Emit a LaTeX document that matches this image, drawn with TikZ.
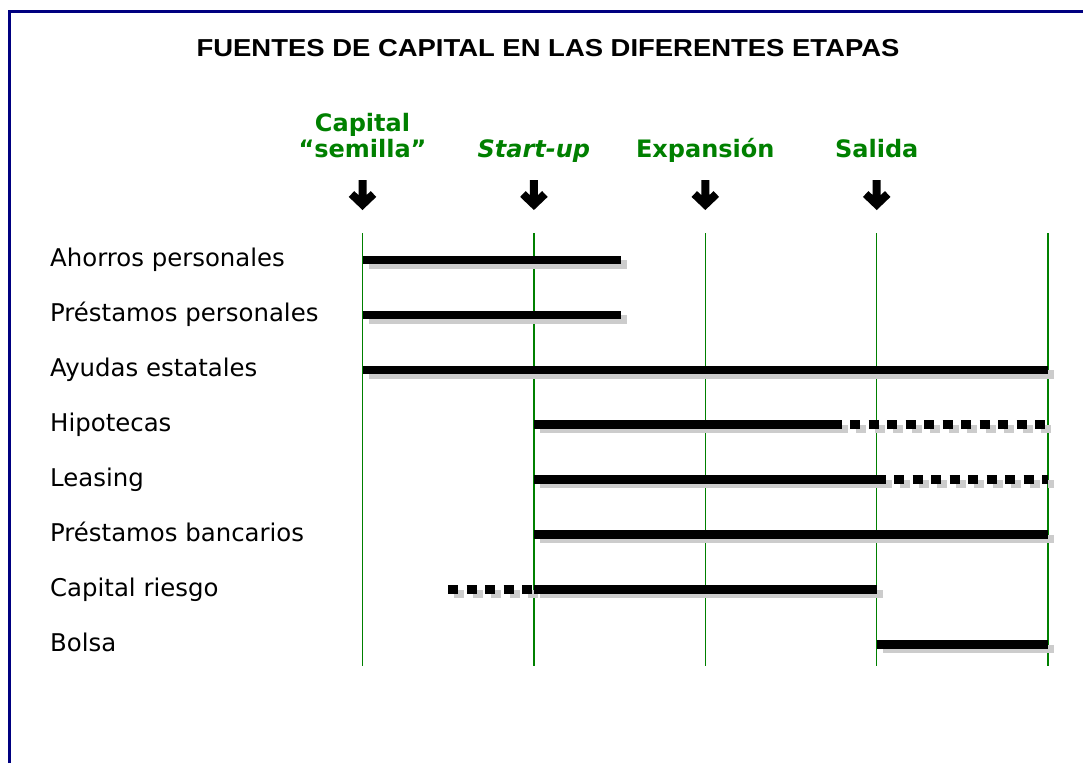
\documentclass[tikz,border=0pt]{standalone}
\usepackage{fontspec}
\usepackage{graphicx}
\setmainfont{DejaVu Sans}
\newfontfamily\titlefont{Liberation Sans}
\definecolor{verdeetapa}{RGB}{0,128,0}
\definecolor{azulmarco}{RGB}{0,0,128}
\definecolor{grissombra}{RGB}{204,204,204}
\tikzset{
  marco/.style={draw=azulmarco, line width=3pt},
  etapa/.style={text=verdeetapa, font=\bfseries\fontsize{24}{26}\selectfont, align=center, anchor=base, inner sep=0pt},
  fuente/.style={font=\fontsize{24.4}{28}\selectfont, anchor=base west, inner sep=0pt},
  linea/.style={draw=verdeetapa, line width=1.3pt},
  flecha/.style={line width=8pt, line join=miter},
  barra/.style={line width=8.5pt},
  sombra/.style={draw=grissombra, line width=8.5pt, xshift=6pt, yshift=-4.5pt},
  puntos/.style={dash pattern=on 10pt off 8.5pt}
}
% shadow first, then the black bar
\newcommand{\tramo}[4][]{%
  \draw[sombra,#1] (#3,#2) -- (#4,#2);
  \draw[barra,#1] (#3,#2) -- (#4,#2);}
\begin{document}
\begin{tikzpicture}[x=1pt, y=-1pt]
  \useasboundingbox (0,0) rectangle (1083,763);
  \draw[marco] (9.5,763) |- (1083,11.7);
  \node[anchor=base] (titulo) at (548,56.7)
    {\titlefont\bfseries\fontsize{24.5}{28}\selectfont\scalebox{1.12}[1]{FUENTES DE CAPITAL EN LAS DIFERENTES ETAPAS}};
  % stages
  \node[etapa] (semilla) at (362.5,157) {Capital\\“semilla”};
  \node[etapa] (startup) at (533.9,157) {\itshape Start-up};
  \node[etapa] (expansion) at (705.3,157) {Expansión};
  \node[etapa] (salida) at (876.7,157) {Salida};
  \foreach \i in {0,...,4} {
    \coordinate (t\i) at ({362.5+171.4*\i},233);
    \coordinate (b\i) at ({362.5+171.4*\i},666);
    \draw[linea] (t\i) -- (b\i);
  }
  \foreach \i in {0,...,3} {
    \coordinate (a\i) at ({362.5+171.4*\i},180);
    \draw[flecha] (a\i) -- ++(0,24.5) ++(-11,-10.5) -- ++(11,10.5) -- ++(11,-10.5);
  }
  % sources
  \node[fuente] (ahorros) at (50,266.8) {Ahorros personales};
  \node[fuente] (prestpers) at (50,321.7) {Préstamos personales};
  \node[fuente] (ayudas) at (50,376.6) {Ayudas estatales};
  \node[fuente] (hipotecas) at (50,431.5) {Hipotecas};
  \node[fuente] (leasing) at (50,486.4) {Leasing};
  \node[fuente] (prestbanc) at (50,541.3) {Préstamos bancarios};
  \node[fuente] (riesgo) at (50,596.2) {Capital riesgo};
  \node[fuente] (bolsa) at (50,651.1) {Bolsa};
  % bars
  \tramo{260}{362.5}{621}
  \tramo{314.9}{362.5}{621}
  \tramo{369.8}{362.5}{1048.1}
  \tramo{424.7}{533.9}{842}
  \tramo[puntos]{424.7}{850}{1048}
  \tramo{479.6}{533.9}{886}
  \tramo[puntos]{479.6}{894}{1048.1}
  \tramo{534.5}{533.9}{1048.1}
  \tramo[puntos]{589.4}{448}{533.9}
  \tramo{589.4}{533.9}{876.7}
  \tramo{644.3}{876.7}{1048.1}
\end{tikzpicture}
\end{document}
